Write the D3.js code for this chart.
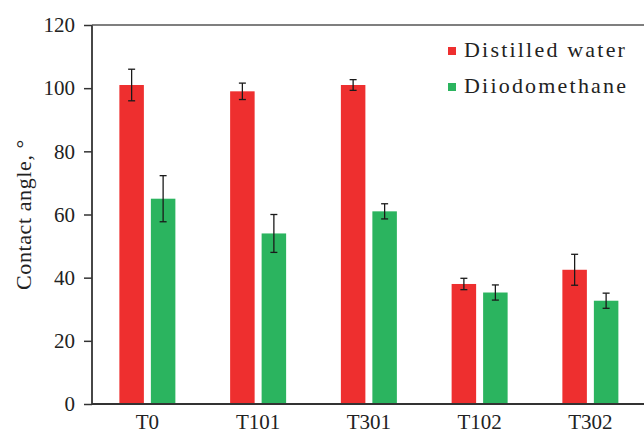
<!DOCTYPE html>
<html>
<head>
<meta charset="utf-8">
<script src="https://cdn.jsdelivr.net/npm/d3@7"></script>
<style>
  body { margin: 0; background: #fff; }
  svg text { font-family: "Liberation Serif", "Times New Roman", serif; fill: #222; }
</style>
</head>
<body>
<div id="wrapper"></div>
<script>
// chart data
const categories = ["T0", "T101", "T301", "T102", "T302"];
const seriesNames = ["Distilled water", "Diiodomethane"];
const waterValues = [101, 99, 101, 38, 42.5];
const waterErrors = [5, 2.6, 1.7, 1.8, 4.9];
const diiodoValues = [65, 54, 61, 35.3, 32.7];
const diiodoErrors = [7.3, 6, 2.4, 2.4, 2.4];
const yTicks = [0, 20, 40, 60, 80, 100, 120];
const colors = ["#ee2f2f", "#2bb45f"];

let dimensions = {
    width: 644,
    height: 435,
    margin: { top: 25, left: 92, bottom: 31, right: 0 }
}
dimensions.boundedWidth = dimensions.width - dimensions.margin.left - dimensions.margin.right;
dimensions.boundedHeight = dimensions.height - dimensions.margin.top - dimensions.margin.bottom;

const wrapper = d3.select("#wrapper").append("svg")
    .attr("width", dimensions.width)
    .attr("height", dimensions.height);

const rows = categories.map((c, i) => ({
    cat: c,
    vals: [
        { key: seriesNames[0], v: waterValues[i], e: waterErrors[i] },
        { key: seriesNames[1], v: diiodoValues[i], e: diiodoErrors[i] }
    ]
}));

const xScaler = d3.scaleBand()
    .domain(categories)
    .range([dimensions.margin.left, dimensions.margin.left + 553.75]);
const xSub = d3.scaleBand()
    .domain(seriesNames)
    .range([-28, 28])
    .paddingInner(0.222);
const yScaler = d3.scaleLinear()
    .domain([0, 120])
    .range([dimensions.margin.top + dimensions.boundedHeight, dimensions.margin.top]);
const color = d3.scaleOrdinal().domain(seriesNames).range(colors);

// bars
const groups = wrapper.append("g").selectAll("g")
    .data(rows)
    .join("g")
    .attr("transform", d => `translate(${xScaler(d.cat) + xScaler.bandwidth() / 2},0)`);

groups.selectAll("rect")
    .data(d => d.vals)
    .join("rect")
    .attr("x", d => xSub(d.key))
    .attr("width", xSub.bandwidth())
    .attr("y", d => yScaler(d.v))
    .attr("height", d => yScaler(0) - yScaler(d.v))
    .attr("fill", d => color(d.key));

// error bars
const err = groups.selectAll("g.err")
    .data(d => d.vals)
    .join("g")
    .attr("class", "err")
    .attr("stroke", "#1a1a1a")
    .attr("stroke-width", 1.3);
const cx = d => xSub(d.key) + xSub.bandwidth() / 2;
err.append("line")
    .attr("x1", cx).attr("x2", cx)
    .attr("y1", d => yScaler(d.v + d.e))
    .attr("y2", d => yScaler(d.v - d.e));
err.append("line")
    .attr("x1", d => cx(d) - 3.5).attr("x2", d => cx(d) + 3.5)
    .attr("y1", d => yScaler(d.v + d.e)).attr("y2", d => yScaler(d.v + d.e));
err.append("line")
    .attr("x1", d => cx(d) - 3.5).attr("x2", d => cx(d) + 3.5)
    .attr("y1", d => yScaler(d.v - d.e)).attr("y2", d => yScaler(d.v - d.e));

// axes
const yAxisGen = d3.axisLeft(yScaler).tickValues(yTicks).tickSize(8).tickPadding(9);
const axisY = wrapper.append("g")
    .attr("transform", `translate(${dimensions.margin.left},0)`)
    .call(yAxisGen);
axisY.select(".domain").remove();
axisY.selectAll("line").attr("stroke", "#333").attr("stroke-width", 1.5);
axisY.selectAll("text").style("font-size", "21px").attr("fill", "#222");

const xAxisGen = d3.axisBottom(xScaler).tickSize(0).tickPadding(10);
const axisX = wrapper.append("g")
    .attr("transform", `translate(0,${yScaler(0)})`)
    .call(xAxisGen);
axisX.select(".domain").remove();
axisX.selectAll("text").style("font-size", "21px").attr("fill", "#222");

// frame lines
wrapper.append("line")
    .attr("x1", dimensions.margin.left).attr("x2", dimensions.margin.left)
    .attr("y1", yScaler(120)).attr("y2", yScaler(0))
    .attr("stroke", "#333").attr("stroke-width", 1.8);
wrapper.append("line")
    .attr("x1", dimensions.margin.left).attr("x2", dimensions.width)
    .attr("y1", yScaler(0)).attr("y2", yScaler(0))
    .attr("stroke", "#333").attr("stroke-width", 1.8);
wrapper.append("line")
    .attr("x1", dimensions.margin.left).attr("x2", dimensions.width)
    .attr("y1", yScaler(120)).attr("y2", yScaler(120))
    .attr("stroke", "#555").attr("stroke-width", 1.5);

// y label
wrapper.append("text")
    .attr("transform", `translate(31,${(yScaler(0) + yScaler(120)) / 2}) rotate(-90)`)
    .attr("text-anchor", "middle")
    .style("font-size", "22px")
    .style("letter-spacing", "0.6px")
    .text("Contact angle, °");

// legend
const legend = wrapper.append("g")
    .attr("transform", "translate(448,47)");
const item = legend.selectAll("g")
    .data(seriesNames)
    .join("g")
    .attr("transform", (d, i) => `translate(0,${i * 36})`);
item.append("rect")
    .attr("width", 8).attr("height", 8)
    .attr("fill", d => color(d));
item.append("text")
    .attr("x", 16).attr("y", 10)
    .style("font-size", "22px")
    .style("letter-spacing", "2.2px")
    .text(d => d);
</script>
</body>
</html>
